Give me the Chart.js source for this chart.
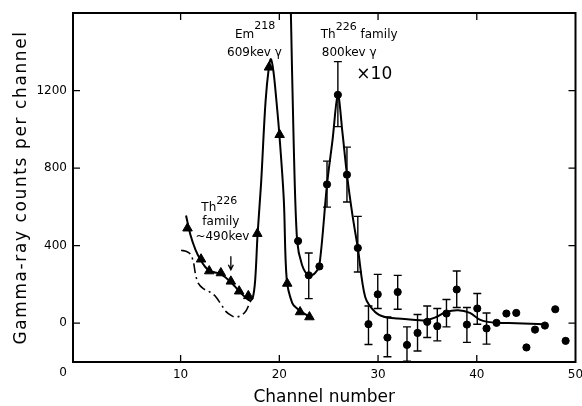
<!DOCTYPE html>
<html>
<head>
<meta charset="utf-8">
<script src="https://cdn.jsdelivr.net/npm/chart.js@4.4.1/dist/chart.umd.min.js"></script>
<style>
    body { margin: 0; background: #fff; }
</style>
</head>
<body>
<canvas id="myChart" width="582" height="406"></canvas>
<script>
// axis ticks
const xTicks = [10, 20, 30, 40, 50];
const yTicks = [0, 400, 800, 1200];

// Em218 data (triangles)
const triX = [10.7, 12.07, 12.9, 14.08, 15.09, 15.93, 16.86, 17.77, 18.95, 20.03, 20.8, 22.1, 23.05];
const triY = [490, 330, 269, 259, 216, 165, 141, 462, 1320, 972, 205, 58, 32];

// solid curve through the triangles
const fitAX = [10.55, 11.0, 11.5, 12.0, 12.5, 13.0, 13.5, 14.0, 14.5, 15.0, 15.5, 16.0, 16.5, 17.0, 17.3, 17.55, 17.8, 18.15, 18.6, 18.95, 19.15, 19.4, 19.7, 20.0, 20.45, 20.75, 21.3, 21.8, 22.3, 23.1];
const fitAY = [556, 455, 380, 328, 290, 268, 262, 255, 238, 216, 190, 162, 136, 118, 130, 220, 462, 720, 1140, 1325, 1362, 1300, 1150, 975, 640, 225, 105, 76, 58, 32];

// dash-dot curve
const fitBX = [10.05, 10.6, 11.0, 11.3, 11.5, 11.8, 12.3, 13.0, 13.5, 14.0, 14.6, 15.2, 15.6, 16.1, 16.6, 17.0, 17.2];
const fitBY = [376, 370, 355, 315, 255, 205, 178, 160, 140, 105, 60, 38, 32, 40, 62, 105, 125];

// x10 curve
const fitCX = [21.15, 21.45, 21.8, 22.3, 22.98, 23.6, 24.06, 24.83, 25.4, 25.93, 26.4, 26.85, 27.4, 27.95, 28.7, 29.7, 30.7, 32.0, 33.5, 34.75, 35.75, 36.9, 38.1, 39.3, 40.3, 41.1, 42.1, 44.0, 46.9];
const fitCY = [1650, 940, 427, 300, 245, 258, 300, 716, 950, 1180, 980, 766, 560, 388, 135, 58, 32, 24, 18, 15, 29, 58, 67, 53, 19, 7, 2, 0, -5];

// Th226 family data x10 (circles)
const cX = [21.9, 22.98, 24.06, 24.83, 25.93, 26.85, 27.95, 29.03, 29.97, 30.95, 31.99, 32.93, 34.0, 34.98, 36.0, 36.93, 37.97, 39.0, 40.05, 40.99, 42.0, 43.0, 44.0, 45.03, 45.9, 46.9, 47.95, 49.0];
const cY = [424, 247, 293, 716, 1178, 766, 388, -5, 149, -74, 161, -112, -50, 7, -15, 50, 174, -7, 76, -27, 2, 50, 53, -125, -33, -12, 72, -91];

// error bars
const errX = [22.98, 24.83, 25.93, 26.85, 27.95, 29.03, 29.97, 30.95, 31.99, 32.93, 34.0, 34.98, 36.0, 36.93, 37.97, 39.0, 40.05, 40.99];
const errLo = [127, 599, 1014, 625, 264, -110, 76, -173, 72, -196, -143, -74, -91, -19, 81, -99, -5, -108];
const errHi = [362, 836, 1349, 908, 551, 89, 252, 32, 247, -19, 45, 89, 76, 122, 269, 81, 153, 53];

const FONT = '"DejaVu Sans", sans-serif';

function pts(xs, ys) {
    return xs.map((x, i) => ({x: x, y: ys[i]}));
}

let errData = [];
for (let i = 0; i < errX.length; i++) {
    errData.push({x: errX[i], y: errLo[i]});
    errData.push({x: errX[i], y: errHi[i]});
    errData.push({x: errX[i], y: null});
}

// frame, inward ticks, labels
const decor = {
    id: 'decor',
    afterDraw(chart) {
        const ctx = chart.ctx;
        const a = chart.chartArea;
        const xs = chart.scales.x, ys = chart.scales.y;
        ctx.save();
        ctx.strokeStyle = '#000';
        ctx.fillStyle = '#000';
        ctx.lineWidth = 2;
        ctx.strokeRect(a.left, a.top, a.right - a.left, a.bottom - a.top);

        ctx.lineWidth = 1.3;
        ctx.beginPath();
        for (const v of yTicks) {
            const py = ys.getPixelForValue(v);
            ctx.moveTo(a.left, py); ctx.lineTo(a.left + 7, py);
            ctx.moveTo(a.right, py); ctx.lineTo(a.right - 7, py);
        }
        for (const v of xTicks.slice(0, -1)) {
            const px = xs.getPixelForValue(v);
            ctx.moveTo(px, a.bottom); ctx.lineTo(px, a.bottom - 7);
            ctx.moveTo(px, a.top); ctx.lineTo(px, a.top + 7);
        }
        ctx.stroke();

        // corner zero
        ctx.font = '12px ' + FONT;
        ctx.textAlign = 'center';
        ctx.textBaseline = 'middle';
        ctx.fillText('0', a.left - 10, a.bottom + 11);

        // y title
        ctx.save();
        ctx.translate(22, (a.top + a.bottom) / 2);
        ctx.rotate(-Math.PI / 2);
        ctx.font = '17px ' + FONT;
        ctx.letterSpacing = '1.6px';
        ctx.fillText('Gamma-ray counts per channel', 0, 0);
        ctx.restore();

        // annotations
        ctx.textAlign = 'left';
        ctx.textBaseline = 'alphabetic';
        function put(parts, x, y) {
            let px = xs.getPixelForValue(x);
            const py = ys.getPixelForValue(y);
            for (const p of parts) {
                ctx.font = p[1] + 'px ' + FONT;
                ctx.fillText(p[0], px, py - (p[2] || 0));
                px += ctx.measureText(p[0]).width;
            }
        }
        put([['Em', 12], ['218', 11, 9]], 15.5, 1473);
        put([['609kev ', 12], ['\u03b3', 12]], 14.7, 1380);
        put([['Th', 12], ['226', 11, 8], [' family', 12]], 24.2, 1473);
        put([['800kev ', 12], ['\u03b3', 12]], 24.3, 1380);
        put([['\u00d710', 17]], 27.8, 1262);
        put([['Th', 12], ['226', 11, 7]], 12.1, 577);
        put([['family', 12]], 12.2, 508);
        put([['~490kev', 12]], 11.5, 430);

        // arrow at channel 15
        const ax = xs.getPixelForValue(15.09);
        const y0 = ys.getPixelForValue(345), y1 = ys.getPixelForValue(276);
        ctx.lineWidth = 1.3;
        ctx.beginPath();
        ctx.moveTo(ax, y0); ctx.lineTo(ax, y1);
        ctx.moveTo(ax - 2.5, y1 - 5); ctx.lineTo(ax, y1); ctx.lineTo(ax + 2.5, y1 - 5);
        ctx.stroke();
        ctx.restore();
    }
};

const ctx = document.getElementById('myChart');
const myChart = new Chart(ctx, {
    type: 'line',
    data: {
        datasets: [
            {
                data: pts(triX, triY),
                showLine: false,
                pointStyle: 'triangle',
                pointRadius: 5.5,
                pointBackgroundColor: '#000',
                pointBorderColor: '#000',
                pointBorderWidth: 1
            },
            {
                data: pts(cX, cY),
                showLine: false,
                pointStyle: 'circle',
                pointRadius: 3.6,
                pointBackgroundColor: '#000',
                pointBorderColor: '#000',
                pointBorderWidth: 1
            },
            {
                data: errData,
                borderColor: '#000',
                borderWidth: 1.4,
                spanGaps: false,
                pointStyle: 'line',
                pointRadius: 4,
                pointBorderWidth: 1.4,
                pointBorderColor: '#000'
            },
            {
                data: pts(fitAX, fitAY),
                borderColor: '#000',
                borderWidth: 2,
                pointRadius: 0,
                tension: 0.35
            },
            {
                data: pts(fitBX, fitBY),
                borderColor: '#000',
                borderWidth: 1.6,
                borderDash: [10, 4, 2, 4],
                pointRadius: 0,
                tension: 0.35
            },
            {
                data: pts(fitCX, fitCY),
                borderColor: '#000',
                borderWidth: 2,
                pointRadius: 0,
                tension: 0.3
            }
        ]
    },
    options: {
        responsive: false,
        animation: false,
        layout: { padding: { top: 13, right: 4, left: 0, bottom: 0 } },
        plugins: {
            legend: { display: false },
            tooltip: { enabled: false }
        },
        scales: {
            x: {
                type: 'linear',
                min: -0.9,
                max: 50,
                afterBuildTicks: (s) => { s.ticks = xTicks.map(v => ({value: v})); },
                afterFit: (s) => { s.height = 44; s.paddingLeft = 0; s.paddingRight = 0; },
                grid: { display: false, drawTicks: false },
                border: { display: false },
                ticks: { color: '#000', font: { family: FONT, size: 12 }, padding: 6, maxRotation: 0,
                         callback: (v) => String(v) },
                title: {
                    display: true,
                    text: 'Channel number',
                    color: '#000',
                    font: { family: FONT, size: 17, lineHeight: 1 },
                    padding: { top: 0, bottom: 0 }
                }
            },
            y: {
                type: 'linear',
                min: -200,
                max: 1600,
                afterBuildTicks: (s) => { s.ticks = yTicks.map(v => ({value: v})); },
                afterFit: (s) => { s.width = 73; s.paddingTop = 0; s.paddingBottom = 0; },
                grid: { display: false, drawTicks: false },
                border: { display: false },
                ticks: { color: '#000', font: { family: FONT, size: 12 }, padding: 6,
                         callback: (v) => String(v) }
            }
        }
    },
    plugins: [decor]
});
</script>
</body>
</html>
